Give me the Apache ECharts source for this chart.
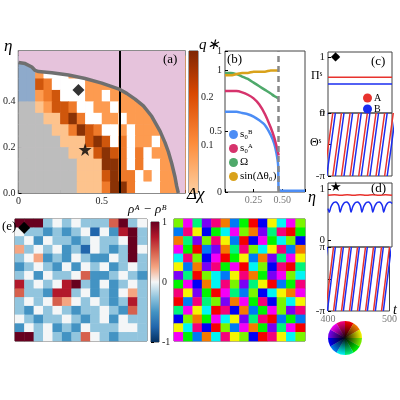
<!DOCTYPE html>
<html><head><meta charset="utf-8">
<script src="https://cdn.jsdelivr.net/npm/echarts@6/dist/echarts.min.js"></script>
<style>html,body{margin:0;padding:0;background:#fff}#c{width:400px;height:400px}</style>
</head><body><div id="c"></div>
<script>
// ---------- Panel (a) phase diagram: rows from eta=0.55 (top) down to 0.00, cols dchi 0..0.95 step 0.05
// cells above the boundary curve are covered by the pink (disordered) region
const aRows = [
"bb222222222222222222",
"bb2www22222222222222",
"bb43wwww222222222222",
"bb234www22w222222222",
"gg12443ww22w22222222",
"ggg11453ww22w2222222",
"gggg113543ww2w222222",
"ggggg111454w3w22w222",
"gggggg1114543w3w2222",
"ggggggg111553w3ww222",
"ggggggg1114533w2w222",
"ggggggg1113553www222"
];
const boundaryX = [0,0.04,0.08,0.1,0.12,0.2,0.3,0.4,0.5,0.6,0.65,0.7,0.75,0.8,0.85,0.88,0.9,0.92,0.94,0.95,0.96];
const boundaryY = [0.57,0.565,0.55,0.535,0.53,0.525,0.515,0.50,0.48,0.455,0.435,0.41,0.38,0.335,0.27,0.22,0.18,0.13,0.07,0.03,0];
const cutX = 0.61;
const diamondPt = [0.36,0.45];
const starPt = [0.40,0.19];
// ---------- Panel (b)
const eta = [0,0.05,0.1,0.15,0.2,0.25,0.3,0.35,0.4,0.43,0.45,0.465,0.47];
const sB  = [0.66,0.66,0.66,0.65,0.64,0.62,0.59,0.55,0.47,0.40,0.32,0.22,0.02];
const sBtailX = [0.47,0.5,0.7], sBtail = [0.02,0.01,0.01];
const sA  = [0.83,0.83,0.83,0.82,0.80,0.77,0.72,0.64,0.53,0.45,0.38,0.32,0.30];
const omega = [0.98,0.98,0.97,0.95,0.93,0.90,0.87,0.84,0.81,0.79,0.78,0.77,0.77];
const sinDth = [0.96,0.96,0.97,0.98,0.98,0.99,0.99,0.99,1.0,1.0,1.0,1.0,1.0];
const etaC = 0.47;
// ---------- Panel (c)
const cPiA = 0.64, cPiB = 0.52;
const cPeriod = 13.5;
const cRedWraps = [380.5,394,407.5,421,434.5,448,461.5,475,488.5];
const cBlueWraps = [384.5,398,411.5,425,438.5,452,465.5,479,492.5];
// ---------- Panel (d)
const dT = [400,402,404.5,407,409.5,412,414.5,417,419,421.5,424,426.5,429,431.5,434,436,438.5,441,443.5,446,448.5,451,453,455.5,458,460.5,463,465.5,468,470,472.5,475,477.5,480,482.5,485,487,489.5,492,494.5,497,500];
const dB = [0.62,0.55,0.65,0.71,0.74,0.75,0.73,0.67,0.55,0.65,0.71,0.74,0.75,0.73,0.67,0.55,0.65,0.71,0.74,0.75,0.73,0.67,0.55,0.65,0.71,0.74,0.75,0.73,0.67,0.55,0.65,0.71,0.74,0.75,0.73,0.67,0.55,0.65,0.71,0.74,0.75,0.72];
const dRedT = [400,410,420,430,440,450,460,470,480,490,500];
const dRed = [0.88,0.89,0.88,0.89,0.88,0.89,0.88,0.89,0.88,0.89,0.88];
const dPeriod = 13;
const dRedWraps = [383,396,409,422,435,448,461,474,487];
const dBlueWraps = [386,399,412,425,438,451,464,477,490];
// ---------- Panel (e) density difference field (levels 0..8 -> -1..1)
const eRows = [
"88834343336834","43323234142783","34243323433483","53434231432384",
"34523243224383","23432424342343","34243346223432","73434783242343",
"63327734232453","34346543432373","32434323343263","43233432342433",
"24342324333443","88343236432333"];
// ---------- Panel (f) phase field (hue index 0..11)
const fRows = [
"3a59b1740826a3","7b2846a3195b04","1593b2708a4638","a407915b362b71",
"6b38a0427195a2","2719b4a0638b05","9503672b149a36","4a816b3952074b",
"b2940a5738621a","07b5391a4b8362","5a260b8174a39b","8314a6295b0747",
"26b8037a1495a0","a4716b2380b263"];
const wheelHues = [0,30,60,90,120,150,180,210,240,270,300,330];

const PI = Math.PI;
const FONT = 'Liberation Serif';
const PINK = '#e6c3dc';
const codeStr = 'pbgw12345';
const codeCol = [PINK,'#8eaacb','#bdbdbd','#ffffff','#fdc38d','#fd9b50','#ef7a2a','#cf560c','#8a3205'];
const rdbu = ['#053061','#2166ac','#4393c3','#92c5de','#f4f6f7','#f4a582','#d6604d','#b2182b','#67001f'];
const hueCol = h => 'hsl(' + h + ',100%,48%)';

const aData = [];
aRows.forEach((row, r) => {
  const y0 = 0.55 - r * 0.05;
  for (let c = 0; c < row.length; c++) {
    const k = codeStr.indexOf(row[c]);
    if (k > 0) aData.push([c * 0.05, y0, k]);
  }
});
const zip = (xs, ys) => xs.map((x, i) => [x, ys[i]]);
const boundary = zip(boundaryX, boundaryY);
function saw(wraps, P) {
  const out = [];
  wraps.forEach(w => { out.push([w, -PI]); out.push([w + P, PI]); out.push([w + P, null]); });
  return out;
}
function gridData(rows, colorFn, base) {
  const out = [];
  rows.forEach((row, r) => {
    for (let c = 0; c < row.length; c++) {
      const v = parseInt(row[c], base);
      out.push({value: [c, rows.length - 1 - r, v], itemStyle: {color: colorFn(v)}});
    }
  });
  return out;
}
const cats = Array.from({length: 14}, (_, i) => i);

const tickStyle = {show: true, inside: true, length: 3, lineStyle: {color: '#000'}};
const lab = {fontFamily: FONT, fontSize: 10, color: '#222', margin: 3};
const hideAx = {show: false};

const chart = echarts.init(document.getElementById('c'));
chart.setOption({
  animation: false,
  grid: [
    {left: 17, top: 51, width: 168, height: 142, show: true, backgroundColor: PINK, borderColor: '#666', borderWidth: 1.5},
    {left: 189, top: 51, width: 9, height: 142, show: true, borderColor: '#444'},
    {left: 225, top: 51, width: 80, height: 141, show: true, borderColor: '#444'},
    {left: 328, top: 52, width: 64, height: 61, show: true, borderColor: '#444'},
    {left: 328, top: 113, width: 64, height: 63, show: true, borderColor: '#444'},
    {left: 328, top: 183, width: 64, height: 64, show: true, borderColor: '#444'},
    {left: 328, top: 247, width: 64, height: 64, show: true, borderColor: '#444'},
    {left: 15, top: 219, width: 132, height: 122, show: true, borderColor: '#444'},
    {left: 151, top: 222, width: 8, height: 120, show: true, borderColor: '#444'},
    {left: 174, top: 219, width: 131, height: 122, show: true, borderColor: '#444'}
  ],
  xAxis: [
    {gridIndex: 0, type: 'value', min: 0, max: 1.0, interval: 0.25, axisLine: hideAx, splitLine: hideAx, axisTick: tickStyle,
     axisLabel: Object.assign({}, lab, {formatter: v => v === 0 ? '0' : (v === 0.5 ? '0.5' : '')})},
    {gridIndex: 1, type: 'value', min: 0, max: 1, show: false},
    {gridIndex: 2, type: 'value', min: 0, max: 0.70, interval: 0.25, axisLine: hideAx, splitLine: hideAx, axisTick: tickStyle,
     axisLabel: Object.assign({}, lab, {color: '#777', formatter: v => (v > 0.1 && v < 0.6) ? v.toFixed(2) : ''})},
    {gridIndex: 3, type: 'value', min: 400, max: 500, show: false},
    {gridIndex: 4, type: 'value', min: 400, max: 500, show: false},
    {gridIndex: 5, type: 'value', min: 400, max: 500, show: false},
    {gridIndex: 6, type: 'value', min: 400, max: 500, interval: 100, axisLine: hideAx, splitLine: hideAx, axisTick: hideAx,
     axisLabel: Object.assign({}, lab, {color: '#777'})},
    {gridIndex: 7, type: 'category', data: cats, show: false},
    {gridIndex: 8, type: 'value', min: 0, max: 1, show: false},
    {gridIndex: 9, type: 'category', data: cats, show: false}
  ],
  yAxis: [
    {gridIndex: 0, type: 'value', min: 0, max: 0.62, interval: 0.2, axisLine: hideAx, splitLine: hideAx, axisTick: tickStyle,
     axisLabel: Object.assign({}, lab, {formatter: v => v < 0.5 ? v.toFixed(1) : ''})},
    {gridIndex: 1, type: 'value', min: 0, max: 0.296, interval: 0.1, position: 'right', axisLine: hideAx, splitLine: hideAx,
     axisTick: {show: true, length: 3, lineStyle: {color: '#000'}},
     axisLabel: Object.assign({}, lab, {formatter: v => (v > 0.05 && v < 0.25) ? v.toFixed(1) : ''})},
    {gridIndex: 2, type: 'value', min: 0, max: 1.16, interval: 0.5, axisLine: hideAx, splitLine: hideAx, axisTick: tickStyle,
     axisLabel: Object.assign({}, lab, {formatter: v => v === 0 ? '0' : (v === 0.5 ? '0.5' : '1')})},
    {gridIndex: 3, type: 'value', min: 0, max: 1.09, axisLine: hideAx, splitLine: hideAx,
     axisTick: Object.assign({customValues: [0, 1]}, tickStyle), axisLabel: Object.assign({customValues: [0, 1]}, lab, {fontSize: 11})},
    {gridIndex: 4, type: 'value', min: -PI, max: PI, interval: PI, axisLine: hideAx, splitLine: hideAx, axisTick: tickStyle,
     axisLabel: Object.assign({}, lab, {fontSize: 11, formatter: v => v < -1 ? '-π' : (v > 1 ? 'π' : '')})},
    {gridIndex: 5, type: 'value', min: -0.13, max: 1.12, axisLine: hideAx, splitLine: hideAx,
     axisTick: Object.assign({customValues: [0, 1]}, tickStyle), axisLabel: Object.assign({customValues: [0, 1]}, lab, {fontSize: 11})},
    {gridIndex: 6, type: 'value', min: -PI, max: PI, interval: PI, axisLine: hideAx, splitLine: hideAx, axisTick: tickStyle,
     axisLabel: Object.assign({}, lab, {fontSize: 11, formatter: v => v < -1 ? '-π' : (v > 1 ? 'π' : '')})},
    {gridIndex: 7, type: 'category', data: cats, show: false},
    {gridIndex: 8, type: 'value', min: -1, max: 1, interval: 1, position: 'right', axisLine: hideAx, splitLine: hideAx,
     axisTick: {show: true, length: 3, lineStyle: {color: '#000'}},
     axisLabel: Object.assign({}, lab, {formatter: v => v === 1 ? '1' : (v === 0 ? '0' : '-1')})},
    {gridIndex: 9, type: 'category', data: cats, show: false}
  ],
  legend: [
    {data: ['s₀ᴮ', 's₀ᴬ', 'Ω', 'sin(Δθ₀)'], left: 224, top: 124, orient: 'vertical', itemGap: 3, icon: 'circle',
     itemWidth: 9, itemHeight: 9, textStyle: {fontFamily: FONT, fontSize: 11, color: '#000', padding: [0, 0, 0, -3]}},
    {data: ['A', 'B'], left: 358, top: 88, orient: 'vertical', itemGap: 1, icon: 'circle',
     itemWidth: 9, itemHeight: 9, textStyle: {fontFamily: FONT, fontSize: 10, color: '#000', padding: [0, 0, 0, -3]}}
  ],
  series: [
    {type: 'custom', xAxisIndex: 0, yAxisIndex: 0, data: aData, clip: true,
     renderItem: (p, api) => {
       const x = api.value(0), y = api.value(1), k = api.value(2);
       const p0 = api.coord([x, y + 0.05]), p1 = api.coord([x + 0.05, y]);
       return {type: 'rect', shape: {x: p0[0], y: p0[1], width: p1[0] - p0[0] + 0.6, height: p1[1] - p0[1] + 0.6},
               style: {fill: codeCol[k]}};
     }},
    {type: 'custom', xAxisIndex: 0, yAxisIndex: 0, data: [[0, 0]], clip: true, z: 3,
     renderItem: (p, api) => {
       const pts = boundary.map(d => api.coord(d));
       pts.push(api.coord([1.0, 0]), api.coord([1.0, 0.62]), api.coord([0, 0.62]));
       return {type: 'polygon', shape: {points: pts}, style: {fill: PINK}};
     }},
    {type: 'line', xAxisIndex: 0, yAxisIndex: 0, data: boundary, smooth: false, symbol: 'none',
     lineStyle: {color: '#6f6f6f', width: 3.5}, z: 5,
     markLine: {silent: true, symbol: 'none', label: {show: false}, lineStyle: {color: '#000', width: 2, type: 'solid'},
                data: [{xAxis: cutX}]}},
    {type: 'scatter', xAxisIndex: 0, yAxisIndex: 0, data: [diamondPt], symbol: 'diamond', symbolSize: 12, itemStyle: {color: '#000'}, z: 6},
    {type: 'scatter', xAxisIndex: 0, yAxisIndex: 0, data: [starPt],
     symbol: 'path://M50,0 L61,35 L98,35 L68,57 L79,91 L50,70 L21,91 L32,57 L2,35 L39,35 Z', symbolSize: 13, itemStyle: {color: '#000'}, z: 6},
    {type: 'custom', xAxisIndex: 1, yAxisIndex: 1, data: [[0, 0]],
     renderItem: (p, api) => {
       const a = api.coord([0, 0.296]), b = api.coord([1, 0]);
       return {type: 'rect', shape: {x: a[0], y: a[1], width: b[0] - a[0], height: b[1] - a[1]},
               style: {fill: new echarts.graphic.LinearGradient(0, 1, 0, 0, [
                 {offset: 0, color: '#fdd0a2'}, {offset: 0.35, color: '#fd8d3c'}, {offset: 0.7, color: '#d94801'}, {offset: 1, color: '#7f2704'}])}};
     }},
    {name: 's₀ᴮ', type: 'line', xAxisIndex: 2, yAxisIndex: 2, data: zip(eta, sB).concat(zip(sBtailX, sBtail)), symbol: 'none', smooth: 0.2,
     itemStyle: {color: '#4c8df5'}, lineStyle: {width: 2.5}},
    {name: 's₀ᴬ', type: 'line', xAxisIndex: 2, yAxisIndex: 2, data: zip(eta, sA), symbol: 'none', smooth: 0.2,
     itemStyle: {color: '#d6336c'}, lineStyle: {width: 2.5}},
    {name: 'Ω', type: 'line', xAxisIndex: 2, yAxisIndex: 2, data: zip(eta, omega), symbol: 'none', smooth: 0.2,
     itemStyle: {color: '#4fa96b'}, lineStyle: {width: 2.5}},
    {name: 'sin(Δθ₀)', type: 'line', xAxisIndex: 2, yAxisIndex: 2, data: zip(eta, sinDth), symbol: 'none', smooth: 0.2,
     itemStyle: {color: '#d9a21b'}, lineStyle: {width: 2.5},
     markLine: {silent: true, symbol: 'none', label: {show: false}, lineStyle: {color: '#888', width: 2.5, type: [6, 4]},
                data: [{xAxis: etaC}]}},
    {name: 'A', type: 'line', xAxisIndex: 3, yAxisIndex: 3, data: [[400, cPiA], [500, cPiA]], symbol: 'none', itemStyle: {color: '#e8322d'}, lineStyle: {width: 1.5}},
    {name: 'B', type: 'line', xAxisIndex: 3, yAxisIndex: 3, data: [[400, cPiB], [500, cPiB]], symbol: 'none', itemStyle: {color: '#1a2cf0'}, lineStyle: {width: 1.5}},
    {type: 'line', xAxisIndex: 4, yAxisIndex: 4, data: saw(cRedWraps, cPeriod), symbol: 'none', connectNulls: false, clip: true, lineStyle: {color: '#e8322d', width: 1.5}},
    {type: 'line', xAxisIndex: 4, yAxisIndex: 4, data: saw(cBlueWraps, cPeriod), symbol: 'none', connectNulls: false, clip: true, lineStyle: {color: '#1a2cf0', width: 1.5}},
    {type: 'line', xAxisIndex: 5, yAxisIndex: 5, data: zip(dRedT, dRed), symbol: 'none', smooth: 0.5, lineStyle: {color: '#e8322d', width: 1.5}},
    {type: 'line', xAxisIndex: 5, yAxisIndex: 5, data: zip(dT, dB), symbol: 'none', smooth: 0.3, lineStyle: {color: '#1a2cf0', width: 1.5}},
    {type: 'line', xAxisIndex: 6, yAxisIndex: 6, data: saw(dRedWraps, dPeriod), symbol: 'none', connectNulls: false, clip: true, lineStyle: {color: '#e8322d', width: 1.5}},
    {type: 'line', xAxisIndex: 6, yAxisIndex: 6, data: saw(dBlueWraps, dPeriod), symbol: 'none', connectNulls: false, clip: true, lineStyle: {color: '#1a2cf0', width: 1.5}},
    {type: 'heatmap', xAxisIndex: 7, yAxisIndex: 7, data: gridData(eRows, v => rdbu[v], 10), itemStyle: {borderWidth: 0}},
    {type: 'custom', xAxisIndex: 8, yAxisIndex: 8, data: [[0, 0]],
     renderItem: (p, api) => {
       const a = api.coord([0, 1]), b = api.coord([1, -1]);
       return {type: 'rect', shape: {x: a[0], y: a[1], width: b[0] - a[0], height: b[1] - a[1]},
               style: {fill: new echarts.graphic.LinearGradient(0, 1, 0, 0, rdbu.map((c, i) => ({offset: i / 8, color: c})))}};
     }},
    {type: 'heatmap', xAxisIndex: 9, yAxisIndex: 9, data: gridData(fRows, v => hueCol(wheelHues[v]), 12), itemStyle: {borderWidth: 0}},
    {type: 'pie', center: [345, 338], radius: [0, 17], startAngle: 90, silent: true, label: {show: false}, labelLine: {show: false},
     data: wheelHues.map(h => ({value: 1, itemStyle: {color: hueCol(h)}}))}
  ],
  graphic: [
    {type: 'circle', z: 100, shape: {cx: 345, cy: 338, r: 17}, silent: true,
     style: {fill: new echarts.graphic.RadialGradient(0.5, 0.5, 0.5, [{offset: 0, color: 'rgba(0,0,0,0.95)'}, {offset: 1, color: 'rgba(0,0,0,0)'}])}},
    {type: 'text', z: 100, left: 4, top: 38, style: {text: 'η', font: 'italic 17px ' + FONT, fill: '#000'}},
    {type: 'text', z: 100, left: 187, top: 186, style: {text: 'Δχ', font: 'italic 17px ' + FONT, fill: '#000'}},
    {type: 'text', z: 100, left: 163, top: 53, style: {text: '(a)', font: '13px ' + FONT, fill: '#000'}},
    {type: 'text', z: 100, left: 199, top: 38, style: {text: 'q∗', font: 'italic 15px ' + FONT, fill: '#000'}},
    {type: 'text', z: 100, left: 227, top: 53, style: {text: '(b)', font: '13px ' + FONT, fill: '#000'}},
    {type: 'text', z: 100, left: 308, top: 190, style: {text: 'η', font: 'italic 16px ' + FONT, fill: '#000'}},
    {type: 'text', z: 100, left: 371, top: 55, style: {text: '(c)', font: '13px ' + FONT, fill: '#000'}},
    {type: 'text', z: 100, left: 331, top: 51, style: {text: '◆', font: '12px DejaVu Sans', fill: '#000'}},
    {type: 'text', z: 100, left: 311, top: 70, style: {text: 'Πˢ', font: '12px ' + FONT, fill: '#000'}},
    {type: 'text', z: 100, left: 310, top: 137, style: {text: 'Θˢ', font: '12px ' + FONT, fill: '#000'}},
    {type: 'text', z: 100, left: 371, top: 182, style: {text: '(d)', font: '13px ' + FONT, fill: '#000'}},
    {type: 'text', z: 100, left: 330, top: 181, style: {text: '★', font: '13px DejaVu Sans', fill: '#000'}},
    {type: 'text', z: 100, left: 393, top: 303, style: {text: 't', font: 'italic 14px ' + FONT, fill: '#000'}},
    {type: 'text', z: 100, left: 2, top: 220, style: {text: '(e)', font: '13px ' + FONT, fill: '#000'}},
    {type: 'text', z: 100, left: 18, top: 220, style: {text: '◆', font: '16px DejaVu Sans', fill: '#000'}},
    {type: 'text', z: 100, left: 128, top: 203, style: {text: 'ρᴬ − ρᴮ', font: 'italic 13px ' + FONT, fill: '#000'}}
  ]
});
</script></body></html>
